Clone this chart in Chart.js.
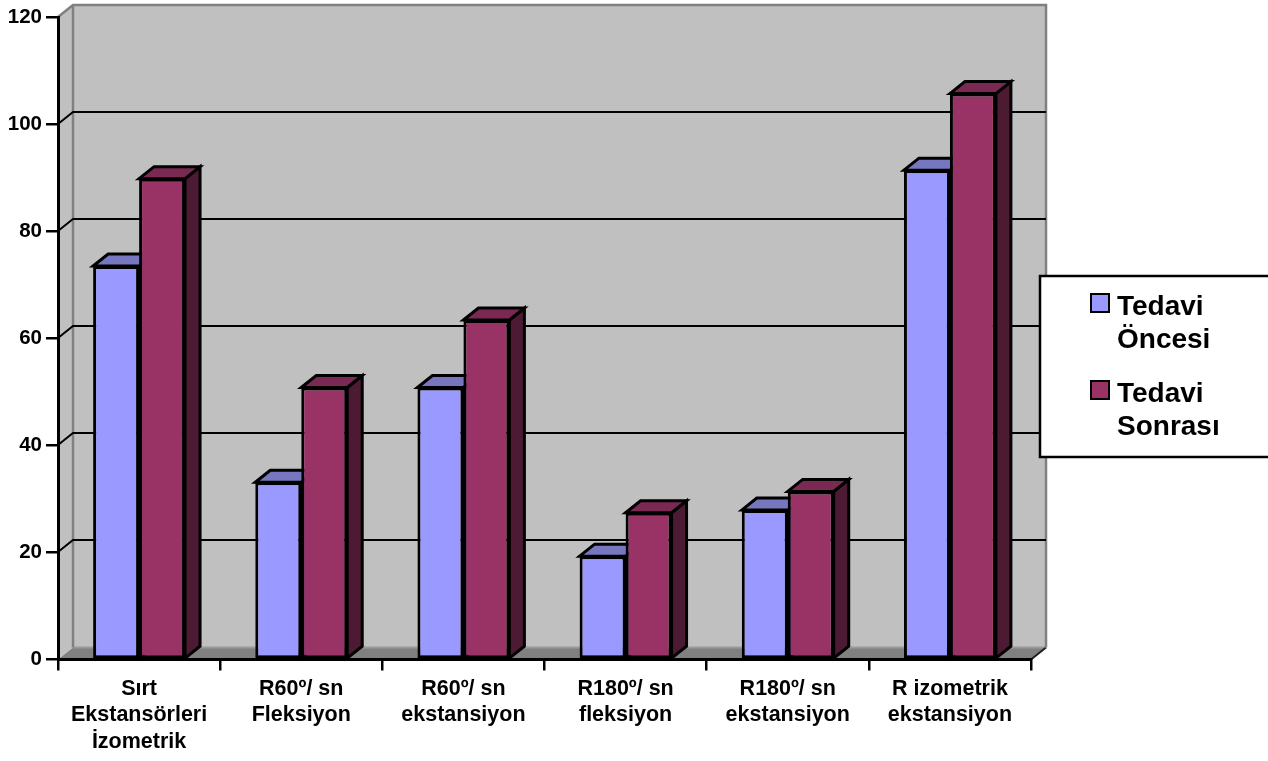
<!DOCTYPE html>
<html>
<head>
<meta charset="utf-8">
<script src="https://cdn.jsdelivr.net/npm/chart.js@4/dist/chart.umd.min.js"></script>
<style>
  html, body { margin: 0; padding: 0; background: #ffffff; }
  #wrap { width: 1268px; height: 761px; }
</style>
</head>
<body>
<div id="wrap"><canvas id="chart" width="1268" height="761"></canvas></div>
<script>
// Measurement groups shown along the horizontal axis (one array per label line)
const categories = [
  ["Sırt", "Ekstansörleri", "İzometrik"],
  ["R60º/ sn", "Fleksiyon"],
  ["R60º/ sn", "ekstansiyon"],
  ["R180º/ sn", "fleksiyon"],
  ["R180º/ sn", "ekstansiyon"],
  ["R izometrik", "ekstansiyon"]
];

// Series names
const seriesNames = ["Tedavi Öncesi", "Tedavi Sonrası"];

// Values before and after treatment
const tedaviOncesi  = [73.5, 33.1, 50.8, 19.3, 27.9, 91.4];
const tedaviSonrasi = [89.8, 50.8, 63.4, 27.4, 31.4, 105.7];

// Value axis range
const yMin = 0;
const yMax = 120;
const yStep = 20;

const FONT = "'Liberation Sans', Arial, Helvetica, sans-serif";
const DX = 15;   // depth offset to the right
const DY = 12;   // depth offset upwards

const faceColors = [
  { front: "#9999ff", top: "#7777c0", side: "#5c5c99" },
  { front: "#993366", top: "#7a2952", side: "#4d1a33" }
];

// Walls, floor and receding gridlines of the 3D box
const boxPlugin = {
  id: "box3d",
  beforeDraw(chart) {
    const { ctx, chartArea: a, scales: { y } } = chart;
    ctx.save();
    // back wall
    ctx.fillStyle = "#c0c0c0";
    ctx.fillRect(a.left + DX, a.top - DY, a.right - a.left, a.bottom - a.top);
    // left side wall
    ctx.beginPath();
    ctx.moveTo(a.left, a.top);
    ctx.lineTo(a.left + DX, a.top - DY);
    ctx.lineTo(a.left + DX, a.bottom - DY);
    ctx.lineTo(a.left, a.bottom);
    ctx.closePath();
    ctx.fill();
    // floor
    ctx.beginPath();
    ctx.moveTo(a.left, a.bottom);
    ctx.lineTo(a.left + DX, a.bottom - DY);
    ctx.lineTo(a.right + DX, a.bottom - DY);
    ctx.lineTo(a.right, a.bottom);
    ctx.closePath();
    ctx.fillStyle = "#808080";
    ctx.fill();
    ctx.lineWidth = 2;
    ctx.strokeStyle = "#999999";
    ctx.beginPath();
    ctx.moveTo(a.left + DX, a.bottom - DY);
    ctx.lineTo(a.right + DX, a.bottom - DY);
    ctx.stroke();
    ctx.strokeStyle = "#202020";
    ctx.beginPath();
    ctx.moveTo(a.right, a.bottom);
    ctx.lineTo(a.right + DX, a.bottom - DY);
    ctx.stroke();

    // wall outlines
    ctx.strokeStyle = "#808080";
    ctx.lineWidth = 2.5;
    ctx.beginPath();
    ctx.moveTo(a.left, a.top);
    ctx.lineTo(a.left + DX, a.top - DY);
    ctx.lineTo(a.right + DX, a.top - DY);
    ctx.lineTo(a.right + DX, a.bottom - DY);
    ctx.moveTo(a.left + DX, a.top - DY);
    ctx.lineTo(a.left + DX, a.bottom - DY);
    ctx.stroke();

    // gridlines running across the side wall and back wall
    ctx.strokeStyle = "#000000";
    ctx.lineWidth = 2;
    y.ticks.forEach(t => {
      if (t.value <= yMin || t.value >= yMax) return;
      const py = Math.round(y.getPixelForValue(t.value));
      ctx.beginPath();
      ctx.moveTo(a.left, py);
      ctx.lineTo(a.left + DX, py - DY);
      ctx.lineTo(a.right + DX, py - DY);
      ctx.stroke();
    });
    ctx.restore();
  },
  // top and side faces of every column, placed from the bar elements
  beforeDatasetsDraw(chart) {
    const { ctx } = chart;
    ctx.save();
    ctx.lineWidth = 3;
    ctx.lineJoin = "miter";
    ctx.strokeStyle = "#000000";
    chart.data.datasets.forEach((ds, di) => {
      const meta = chart.getDatasetMeta(di);
      const c = faceColors[di];
      meta.data.forEach(bar => {
        const p = bar.getProps(["x", "y", "base", "width"], true);
        const L = p.x - p.width / 2, R = p.x + p.width / 2;
        const T = p.y, B = p.base;
        // side face
        ctx.beginPath();
        ctx.moveTo(R, T);
        ctx.lineTo(R + DX, T - DY);
        ctx.lineTo(R + DX, B - DY);
        ctx.lineTo(R, B);
        ctx.closePath();
        ctx.fillStyle = c.side;
        ctx.fill();
        ctx.stroke();
        // top face
        ctx.beginPath();
        ctx.moveTo(L, T);
        ctx.lineTo(L + DX, T - DY);
        ctx.lineTo(R + DX, T - DY);
        ctx.lineTo(R, T);
        ctx.closePath();
        ctx.fillStyle = c.top;
        ctx.fill();
        ctx.stroke();
      });
    });
    ctx.restore();
  },
  // boxed legend on the right
  afterDraw(chart) {
    const { ctx } = chart;
    ctx.save();
    ctx.fillStyle = "#ffffff";
    ctx.fillRect(1040, 276, 240, 181);
    ctx.strokeStyle = "#000000";
    ctx.lineWidth = 2.5;
    ctx.strokeRect(1040, 276, 240, 181);
    ctx.font = "bold 28px " + FONT;
    ctx.textAlign = "left";
    ctx.textBaseline = "alphabetic";
    const baselines = [315, 402];
    chart.data.datasets.forEach((ds, i) => {
      const b = baselines[i];
      ctx.fillStyle = ds.backgroundColor;
      ctx.fillRect(1091, b - 21, 18, 18);
      ctx.lineWidth = 2;
      ctx.strokeStyle = "#000000";
      ctx.strokeRect(1091, b - 21, 18, 18);
      ctx.fillStyle = "#000000";
      const words = ds.label.split(" ");
      words.forEach((w, k) => ctx.fillText(w, 1117, b + k * 33));
    });
    ctx.restore();
  }
};

new Chart(document.getElementById("chart"), {
  type: "bar",
  data: {
    labels: categories,
    datasets: [
      {
        label: seriesNames[0],
        data: tedaviOncesi,
        backgroundColor: faceColors[0].front,
        borderColor: "#000000",
        borderWidth: 3,
        borderSkipped: false
      },
      {
        label: seriesNames[1],
        data: tedaviSonrasi,
        backgroundColor: faceColors[1].front,
        borderColor: "#000000",
        borderWidth: 3,
        borderSkipped: false
      }
    ]
  },
  options: {
    responsive: false,
    animation: false,
    events: [],
    layout: { padding: { left: 0, right: 237, top: 17, bottom: 0 } },
    datasets: { bar: { barPercentage: 1.0, categoryPercentage: 0.567 } },
    plugins: {
      legend: { display: false },
      tooltip: { enabled: false },
      title: { display: false }
    },
    scales: {
      x: {
        offset: true,
        grid: {
          display: true,
          offset: true,
          drawOnChartArea: false,
          drawTicks: true,
          tickLength: 11,
          color: "#000000",
          lineWidth: 2.5
        },
        border: { display: true, color: "#000000", width: 3 },
        ticks: {
          color: "#000000",
          padding: 5,
          maxRotation: 0,
          autoSkip: false,
          font: { family: FONT, size: 21.5, weight: "bold", lineHeight: 1.24 }
        },
        afterFit(scale) { scale.height = 101.5; }
      },
      y: {
        min: yMin,
        max: yMax,
        grid: {
          display: true,
          drawOnChartArea: false,
          drawTicks: true,
          tickLength: 12,
          color: "#000000",
          lineWidth: 2.5
        },
        border: { display: true, color: "#000000", width: 3 },
        ticks: {
          stepSize: yStep,
          color: "#000000",
          padding: 4,
          font: { family: FONT, size: 20.5, weight: "bold" }
        },
        afterFit(scale) { scale.width = 58; }
      }
    }
  },
  plugins: [boxPlugin]
});
</script>
</body>
</html>
